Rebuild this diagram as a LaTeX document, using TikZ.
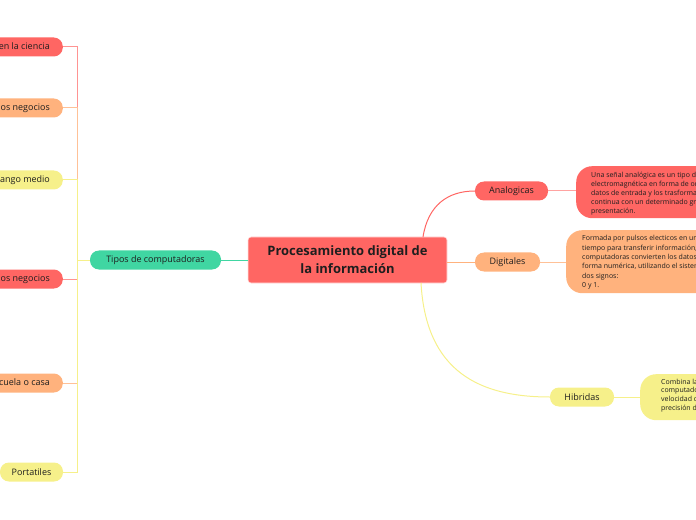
\documentclass[tikz,border=0pt]{standalone}
\usepackage{fontspec}
\setmainfont{Open Sans}
\definecolor{cred}{HTML}{FF6663}
\definecolor{corange}{HTML}{FFB27D}
\definecolor{cyellow}{HTML}{F6F08A}
\definecolor{cteal}{HTML}{40D6A2}
\definecolor{ctext}{HTML}{1E1E1E}
\tikzset{
  pill/.style={rounded corners=9bp, minimum height=19bp, inner xsep=0bp, inner ysep=0bp, text=ctext, font=\fontsize{9}{11}\selectfont, align=center},
  desc/.style={rounded corners=16bp, anchor=north west, inner xsep=0bp, inner ysep=0bp},
  desctext/.style={anchor=north west, inner sep=0bp, text=ctext, align=left},
  link/.style={line width=1bp},
}
\begin{document}
\begin{tikzpicture}[x=1bp,y=-1bp]
\useasboundingbox (0,0) rectangle (696,520);
\clip (0,0) rectangle (696,520);
% central
\node[draw=white!80!cred, line width=0.6bp, fill=cred, rounded corners=3bp, minimum width=199bp, minimum height=46bp, inner sep=0bp, text=ctext, font=\bfseries\fontsize{13}{18}\selectfont, align=center] (c) at (347.5,260) {Procesamiento digital de\\la información};
% Tipos
\node[pill, fill=cteal, minimum width=131bp] (t) at (155.5,260) {Tipos de computadoras};
\draw[link, cteal] (t.east) -- (c.west |- t.east);
% left children
\node[pill, fill=cred, anchor=east, inner xsep=13bp] (l1) at (63,47) {Supercomputadoras en la ciencia};
\node[pill, fill=corange, anchor=east, inner xsep=13bp] (l2) at (63,108) {Mainframes para los negocios};
\node[pill, fill=cyellow, anchor=east, inner xsep=13bp] (l3) at (63,180) {Minicomputadoras de rango medio};
\node[pill, fill=cred, anchor=east, inner xsep=13bp] (l4) at (63,279) {Estaciones de trabajo para los negocios};
\node[pill, fill=corange, anchor=east, inner xsep=13bp] (l5) at (63,383) {Microcomputadoras para la escuela o casa};
\node[pill, fill=cyellow, minimum width=63bp] (l6) at (31.5,472) {Portatiles};
\coordinate (tr) at (77,260);
\draw[link, cred!70!white] (l1.east) -- (tr |- l1.east) -- (tr) -- (t.west);
\draw[link, corange!80!white] (l2.east) -- (tr |- l2.east) -- (tr) -- (t.west);
\draw[link, cyellow] (l3.east) -- (tr |- l3.east) -- (tr) -- (t.west);
\draw[link, cred!70!white] (l4.east) -- (tr |- l4.east) -- (tr) -- (t.west);
\draw[link, corange!80!white] (l5.east) -- (tr |- l5.east) -- (tr) -- (t.west);
\draw[link, cyellow] (l6.east) -- (tr |- l6.east) -- (tr) -- (t.west);
% right children
\node[pill, fill=cred, minimum width=73bp] (a) at (511.5,191) {Analogicas};
\node[pill, fill=corange, minimum width=65bp] (d) at (507.5,262) {Digitales};
\node[pill, fill=cyellow, minimum width=64bp] (h) at (582,397) {Hibridas};
\coordinate (ca) at (423,237);
\coordinate (ch) at (421,283);
\draw[link, cred] (ca) .. controls (428,205) and (448,191) .. (a.west);
\draw[link, corange] (c.east |- d.west) -- (d.west);
\draw[link, cyellow] (ch) .. controls (426,372) and (480,397) .. (h.west);
% descriptions
\node[desc, fill=cred, minimum width=160bp, minimum height=52bp] (ad) at (576,166) {};
\node[desctext, font=\fontsize{7}{9.2}\selectfont] (adt) at (591,171.5) {Una señal analógica es un tipo de señal generada\\electromagnética en forma de onda que recibe los\\datos de entrada y los trasforma en una señal\\continua con un determinado grado de\\presentación.};
\node[desc, fill=corange, minimum width=170bp, minimum height=63bp] (dd) at (566,230) {};
\node[desctext, font=\fontsize{7}{9.3}\selectfont] (ddt) at (582,235.5) {Formada por pulsos electicos en un lapso de\\tiempo para transferir información, las\\computadoras convierten los datos a una\\forma numérica, utilizando el sistema binario de\\dos signos:\\0 y 1.};
\node[desc, fill=cyellow, minimum width=100bp, minimum height=46bp] (hd) at (640,374) {};
\node[desctext, font=\fontsize{7}{8.8}\selectfont] (hdt) at (661,378.5) {Combina las ventajas de las\\computadoras analógicas, la\\velocidad de las analógicas y la\\precisión de las digitales.};
\draw[link, cred!60!white] (a.east) -- (ad.west |- a.east);
\draw[link, corange!80!white] (d.east) -- (dd.west |- d.east);
\draw[link, cyellow] (h.east) -- (hd.west |- h.east);
\end{tikzpicture}
\end{document}
